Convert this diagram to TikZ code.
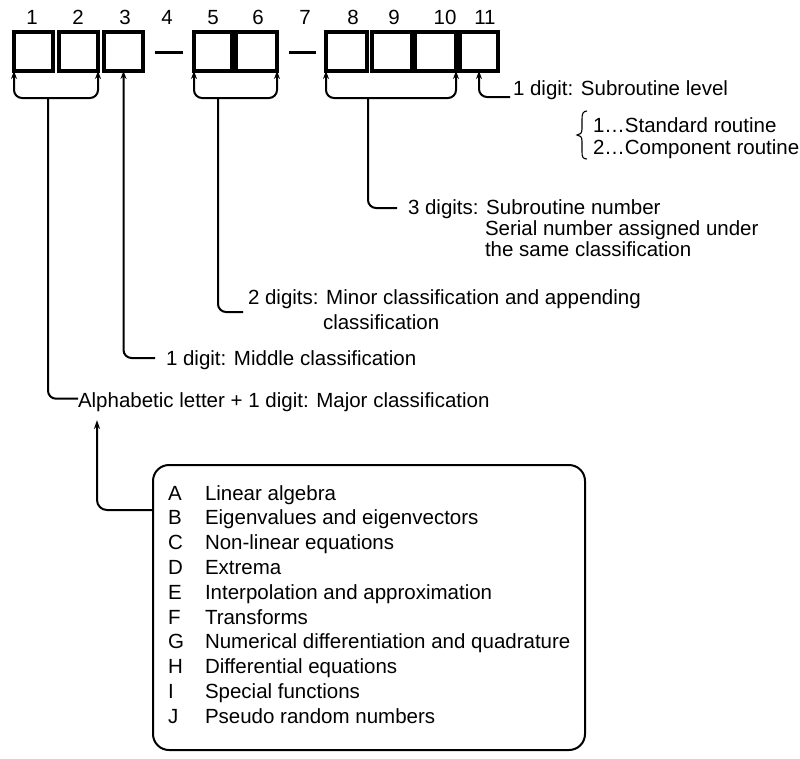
\documentclass[tikz,border=0pt]{standalone}
\usepackage{fontspec}
\setmainfont{Liberation Sans}
\usetikzlibrary{arrows.meta}
\begin{document}
\begin{tikzpicture}[x=1pt,y=-1pt,
  every node/.style={font=\fontsize{20.5}{24.8}\selectfont, inner sep=0pt, outer sep=0pt},
  digitbox/.style={draw, line width=3.2pt, minimum height=39pt},
  lbl/.style={anchor=base west},
  num/.style={anchor=base},
  conn/.style={line width=2pt, rounded corners=8pt},
  tip/.style={-{Stealth[length=9pt,width=6pt]}},
  tips/.style={{Stealth[length=8pt,width=6pt]}-{Stealth[length=8pt,width=6pt]}},
  rtip/.style={{Stealth[length=8pt,width=6pt]}-},
  hyph/.style={line width=3pt},
  listbox/.style={draw, line width=2pt, rounded corners=16pt, anchor=north west}
]
\useasboundingbox (0,0) rectangle (800,758);

% digit positions
\node[num] (n1) at (32,24) {1};
\node[num] (n2) at (78,24) {2};
\node[num] (n3) at (125,24) {3};
\node[num] (n4) at (167,24) {4};
\node[num] (n5) at (213,24) {5};
\node[num] (n6) at (258,24) {6};
\node[num] (n7) at (305,24) {7};
\node[num] (n8) at (353,24) {8};
\node[num] (n9) at (394,24) {9};
\node[num] (n10) at (445,24) {10};
\node[num] (n11) at (485,24) {11};

% boxes
\node[digitbox, minimum width=39pt] (b1) at (33.5,51.5) {};
\node[digitbox, minimum width=39pt] (b2) at (78.5,51.5) {};
\node[digitbox, minimum width=39pt] (b3) at (123.5,51.5) {};
\node[digitbox, minimum width=38pt] (b5) at (213,51.5) {};
\node[digitbox, minimum width=41pt] (b6) at (256.5,51.5) {};
\node[digitbox, minimum width=41pt] (b8) at (346.5,51.5) {};
\node[digitbox, minimum width=40pt] (b9) at (392,51.5) {};
\node[digitbox, minimum width=41pt] (b10) at (435.5,51.5) {};
\node[digitbox, minimum width=38pt] (b11) at (479,51.5) {};

% hyphens
\draw[hyph] (155,52) -- (183,52);
\draw[hyph] (289,52) -- (316,52);

% junctions and free ends
\coordinate (j12) at (48,98);
\coordinate (j56) at (218,98);
\coordinate (j810) at (368,98);
\coordinate (cMid) at (155,358);
\coordinate (cMin) at (243,312);
\coordinate (cSub) at (397,208);
\coordinate (cLev) at (510,97);
\coordinate (majTip) at (97,420);

% texts
\node[lbl] (tLev) at (513,95) {1 digit: Subroutine level};
\node[lbl] (tStd) at (593,132) {1\ldots Standard routine};
\node[lbl] (tCmp) at (593,154) {2\ldots Component routine};
\node[lbl] (tSub) at (408,214) {3 digits: Subroutine number};
\node[lbl] (tSer) at (485,235) {Serial number assigned under};
\node[lbl] (tSam) at (485,256) {the same classification};
\node[lbl] (tMin) at (248,304) {2 digits: Minor classification and appending};
\node[lbl] (tMin2) at (323,329) {classification};
\node[lbl] (tMid) at (166,365) {1 digit: Middle classification};
\node[lbl] (tMaj) at (78,407) {Alphabetic letter + 1 digit: Major classification};

% brace
\draw[line width=1.1pt] (587,111) .. controls (583,111) and (582,114) .. (582,119) -- (582,129)
  .. controls (582,133) and (580,135) .. (577,135)
  .. controls (580,135) and (582,137) .. (582,141) -- (582,152)
  .. controls (582,157) and (583,159) .. (587,159);

% brackets
\draw[conn,tips] (b1.south west) -- (b1.south west |- j12) -- (b2.south east |- j12) -- (b2.south east);
\draw[conn] (j12) |- ([yshift=3pt]tMaj.west);
\draw[conn,rtip] (b3.south) |- (cMid);
\draw[conn,tips] (b5.south west) -- (b5.south west |- j56) -- (b6.south east |- j56) -- (b6.south east);
\draw[conn] (j56) |- (cMin);
\draw[conn,tips] (b8.south west) -- (b8.south west |- j810) -- (b10.south east |- j810) -- (b10.south east);
\draw[conn] (j810) |- (cSub);
\draw[conn,rtip] (b11.south) |- (cLev);

% list box
\node[listbox, minimum width=432pt, minimum height=285pt] (list) at (153,465) {};
\draw[conn,tip,rounded corners=10pt] ([yshift=-45pt]list.north west) -| (majTip);

\foreach \l/\t [count=\i from 0] in {A/Linear algebra, B/Eigenvalues and eigenvectors, C/Non-linear equations, D/Extrema, E/Interpolation and approximation, F/Transforms, G/Numerical differentiation and quadrature, H/Differential equations, I/Special functions, J/Pseudo random numbers}{
  \node[lbl] (L\i) at (168,500+24.8*\i) {\l};
  \node[lbl] (D\i) at (205,500+24.8*\i) {\t};
}
\end{tikzpicture}
\end{document}
